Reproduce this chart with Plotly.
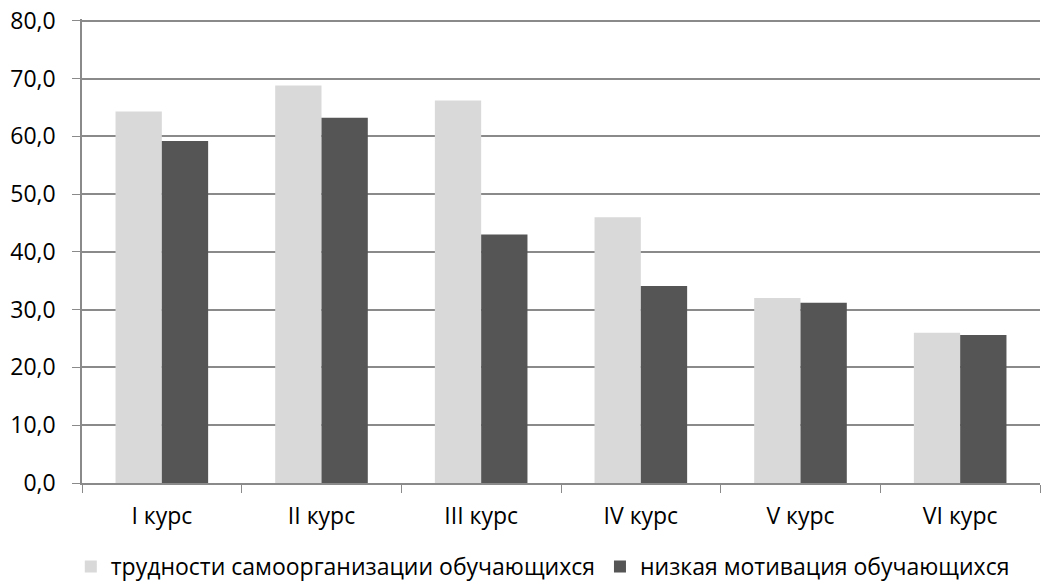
import plotly.graph_objects as go

courses = ["I курс", "II курс", "III курс", "IV курс", "V курс", "VI курс"]
self_org = [64.3, 68.8, 66.2, 46.0, 32.0, 26.0]
low_motiv = [59.2, 63.2, 43.0, 34.1, 31.2, 25.6]

fig = go.Figure()
fig.add_trace(go.Bar(x=courses, y=self_org, name="трудности самоорганизации обучающихся",
                     marker=dict(color="#d9d9d9", line=dict(width=0))))
fig.add_trace(go.Bar(x=courses, y=low_motiv, name="низкая мотивация обучающихся",
                     marker=dict(color="#555555", line=dict(width=0))))

# page body has an 8px margin, so the figure is 8px smaller each way
fig.update_layout(
    width=1044, height=580,
    barmode="group", bargap=0.42, bargroupgap=0,
    separators=", ",
    plot_bgcolor="white", paper_bgcolor="white",
    margin=dict(l=74, r=12, t=11, b=105, autoexpand=False),
    font=dict(family="Open Sans, Noto Sans, sans-serif", size=23, color="#000000"),
    legend=dict(orientation="h", x=0.481, xanchor="center", y=-0.18, yanchor="middle",
                font=dict(size=23), itemwidth=30, traceorder="normal"),
)
# range slightly above 80 so the top grid line and its label are kept
fig.update_yaxes(range=[0, 80.3], tickvals=[0, 10, 20, 30, 40, 50, 60, 70, 80],
                 tickformat=".1f", automargin=False, ticklabeloverflow="allow",
                 showgrid=True, gridcolor="#8a8a8a", gridwidth=1.5,
                 showline=True, linecolor="#8a8a8a", linewidth=1.5,
                 ticks="outside", ticklen=8, tickcolor="#8a8a8a", ticklabelstandoff=12,
                 zeroline=False)
fig.update_xaxes(showline=True, linecolor="#8a8a8a", linewidth=1.5, automargin=False,
                 ticks="outside", tickson="boundaries", ticklen=8, tickcolor="#8a8a8a",
                 ticklabelstandoff=12)

fig.write_html("out.html")
